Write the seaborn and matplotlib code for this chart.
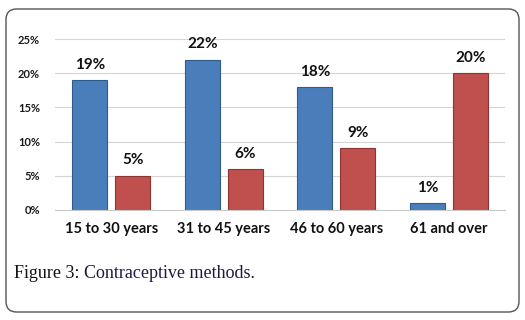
import matplotlib
matplotlib.use("Agg")
import matplotlib.pyplot as plt
import seaborn as sns
import pandas as pd
from matplotlib.patches import FancyBboxPatch

categories = ["15 to 30 years", "31 to 45 years", "46 to 60 years", "61 and over"]
series_names = ["A", "B"]
series_a = [19, 22, 18, 1]
series_b = [5, 6, 9, 20]
ytick_values = [0, 5, 10, 15, 20, 25]
ytick_labels = ["0%", "5%", "10%", "15%", "20%", "25%"]

df = pd.DataFrame({
    "cat": categories * 2,
    "series": [series_names[0]] * 4 + [series_names[1]] * 4,
    "value": series_a + series_b,
})

sns.set_theme(style="white")
plt.rcParams["font.family"] = ["Lato", "DejaVu Sans"]

fig = plt.figure(figsize=(5.25, 3.2), dpi=100)
ax = fig.add_axes([0.105, 0.344, 0.857, 0.534])

palette = {"A": "#4a7ebb", "B": "#c0504d"}
sns.barplot(data=df, x="cat", y="value", hue="series", order=categories,
            hue_order=series_names, palette=palette, width=0.765, gap=0.19,
            ax=ax, legend=False, saturation=1)

edge = {"A": "#2f5a8c", "B": "#8c3432"}
for i, cont in enumerate(ax.containers):
    for p in cont:
        p.set_edgecolor(edge[series_names[i]])
        p.set_linewidth(0.8)
    ax.bar_label(cont, labels=[f"{v}%" for v in (series_a if i == 0 else series_b)],
                 padding=6, fontsize=11, fontweight="bold", color="#111111",
                 clip_on=False)

ax.set_ylim(0, 25)
ax.set_xlim(-0.5, 3.5)
ax.set_yticks(ytick_values)
ax.set_yticklabels(ytick_labels, fontsize=8, fontweight="bold", color="#1a1a1a")
ax.set_xticks(range(len(categories)))
ax.set_xticklabels(categories, fontsize=10.5, fontweight="bold", color="#111111")
ax.tick_params(axis="y", length=0, pad=11)
ax.tick_params(axis="x", length=0, pad=9)
ax.set_xlabel("")
ax.set_ylabel("")
ax.yaxis.grid(True, color="#d4d4d4", linewidth=0.8)
ax.set_axisbelow(True)
for s in ["top", "right", "left"]:
    ax.spines[s].set_visible(False)
ax.spines["bottom"].set_color("#c8c8c8")
ax.spines["bottom"].set_linewidth(0.8)

box = FancyBboxPatch((6 / 525, 8 / 320), 513 / 525, 303 / 320,
                     boxstyle="round,pad=0,rounding_size=0.02",
                     transform=fig.transFigure, facecolor="none",
                     edgecolor="#555555", linewidth=1.0, mutation_aspect=525 / 320)
fig.patches.append(box)

t1 = fig.text(14 / 525, 1 - 273 / 320, "Figure 3: ", fontsize=13,
              family=["Liberation Serif"], color="#111111", va="center")
fig.canvas.draw()
bb = t1.get_window_extent(renderer=fig.canvas.get_renderer())
x1 = bb.x1 / fig.bbox.width
fig.text(x1, 1 - 273 / 320, "Contraceptive methods.", fontsize=13,
         family=["Liberation Serif"], color="#1a1a40", va="center")

fig.savefig("out.png", dpi=100)
